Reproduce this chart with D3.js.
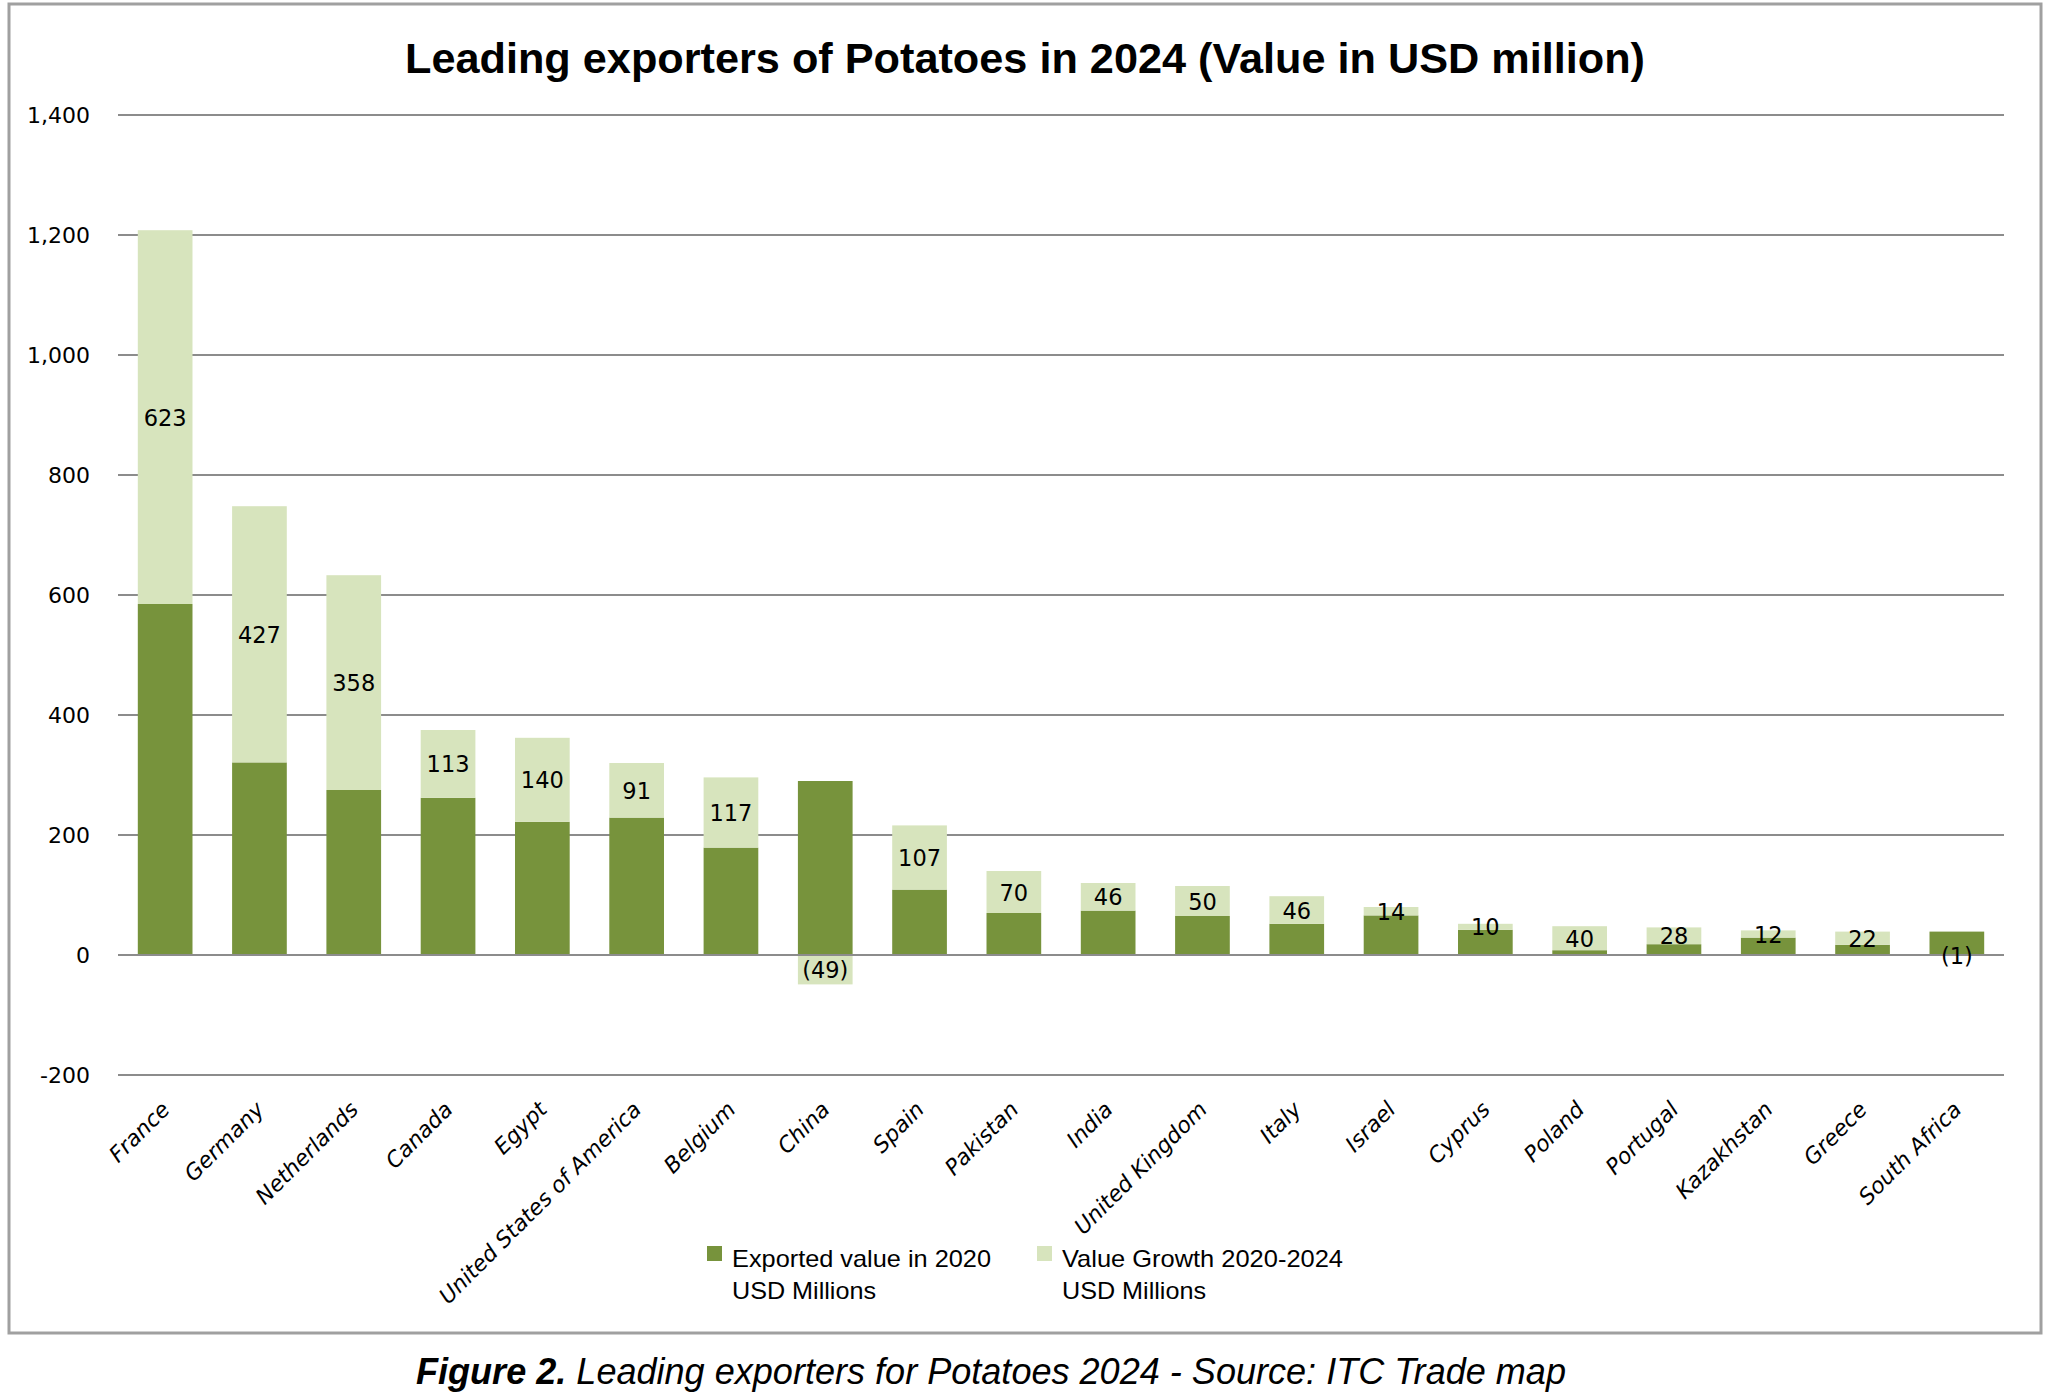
<!DOCTYPE html>
<html>
<head>
<meta charset="utf-8">
<script src="https://cdn.jsdelivr.net/npm/d3@7"></script>
<style>
html,body{margin:0;padding:0;background:#fff;}
svg{display:block;}
</style>
</head>
<body>
<svg id="chart" width="2050" height="1398"></svg>
<script>
const countries = ["France","Germany","Netherlands","Canada","Egypt","United States of America","Belgium","China","Spain","Pakistan","India","United Kingdom","Italy","Israel","Cyprus","Poland","Portugal","Kazakhstan","Greece","South Africa"];
const exported2020 = [585,321,275,262,222,229,179,290,109,70,74,65,52,66,42,8,18,29,17,39];
const growth = [623,427,358,113,140,91,117,-49,107,70,46,50,46,14,10,40,28,12,22,-1];
const yTicks = [-200,0,200,400,600,800,1000,1200,1400];
const seriesNames = [["Exported value in 2020","USD Millions"],["Value Growth 2020-2024","USD Millions"]];
const colors = ["#77933C","#D7E4BD"];

const svg = d3.select("#chart");

// outer frame
svg.append("rect").attr("x",9).attr("y",4).attr("width",2032).attr("height",1329)
  .attr("fill","#fff").attr("stroke","#a0a0a0").attr("stroke-width",3);

// title
svg.append("text").attr("x",1025).attr("y",73).attr("text-anchor","middle")
  .attr("font-family","Liberation Sans, Arial, sans-serif").attr("font-weight","bold")
  .attr("font-size",43).attr("fill","#000")
  .attr("textLength",1240).attr("lengthAdjust","spacingAndGlyphs")
  .text("Leading exporters of Potatoes in 2024 (Value in USD million)");

const x = d3.scaleBand().domain(countries).range([118,2004]).paddingInner(0.42).paddingOuter(0.21);
const y = d3.scaleLinear().domain([-200,1400]).range([1075,115]);

// gridlines
svg.append("g").selectAll("line").data(yTicks).join("line")
  .attr("x1",118).attr("x2",2004)
  .attr("y1",d=>y(d)).attr("y2",d=>y(d))
  .attr("stroke","#8c8c8c").attr("stroke-width",2);

// y axis labels
const comma = d3.format(",");
const yAxis = d3.axisLeft(y).tickValues(yTicks).tickSize(0).tickPadding(0)
  .tickFormat(d => (d<0?"-":"") + comma(Math.abs(d)));
const yg = svg.append("g").attr("transform","translate(90,0)").call(yAxis);
yg.select(".domain").remove();
yg.selectAll("text").attr("font-family","DejaVu Sans, Verdana, sans-serif")
  .attr("font-size",22).attr("fill","#000").attr("dy","0.36em");

// stacked data
const rows = countries.map((c,i)=>({country:c, a:exported2020[i], b:growth[i]}));
const stack = d3.stack().keys(["a","b"]).offset(d3.stackOffsetDiverging);
const series = stack(rows);

svg.append("g").selectAll("g").data(series).join("g")
  .attr("fill",(d,i)=>colors[i])
  .selectAll("rect").data(d=>d).join("rect")
  .attr("x",d=>x(d.data.country))
  .attr("width",x.bandwidth())
  .attr("y",d=>y(Math.max(d[0],d[1])))
  .attr("height",d=>Math.abs(y(d[0])-y(d[1])));

// zero line on top
svg.append("line").attr("x1",118).attr("x2",2004).attr("y1",y(0)).attr("y2",y(0))
  .attr("stroke","#8c8c8c").attr("stroke-width",2);

// data labels for growth series
const fmt = v => v<0 ? "("+Math.abs(v)+")" : String(v);
svg.append("g").selectAll("text").data(series[1]).join("text")
  .attr("x",d=>x(d.data.country)+x.bandwidth()/2)
  .attr("y",d=>y((d[0]+d[1])/2))
  .attr("dy","0.38em")
  .attr("text-anchor","middle")
  .attr("font-family","DejaVu Sans, Verdana, sans-serif")
  .attr("font-size",22.5).attr("fill","#000")
  .text(d=>fmt(d.data.b));

// x axis labels
svg.append("g").selectAll("text").data(countries).join("text")
  .attr("transform",d=>`translate(${x(d)+x.bandwidth()/2-5},1100) rotate(-45)`)
  .attr("text-anchor","end")
  .attr("dy","0.7em")
  .attr("font-family","DejaVu Sans, Verdana, sans-serif")
  .attr("font-style","italic")
  .attr("font-size",22).attr("fill","#000")
  .text(d=>d);

// legend
const legendX = [707,1037];
const lg = svg.append("g");
seriesNames.forEach((lines,i)=>{
  lg.append("rect").attr("x",legendX[i]).attr("y",1246).attr("width",15).attr("height",15).attr("fill",colors[i]);
  lines.forEach((t,j)=>{
    const w = j===0 ? (i===0?259:281) : 144;
    lg.append("text").attr("x",legendX[i]+25).attr("y",1267+j*32)
      .attr("font-family","Liberation Sans, Arial, sans-serif")
      .attr("font-size",24).attr("fill","#000")
      .attr("textLength",w).attr("lengthAdjust","spacingAndGlyphs")
      .text(t);
  });
});

// caption
const cap = svg.append("text").attr("x",991).attr("y",1384).attr("text-anchor","middle")
  .attr("font-family","Liberation Sans, Arial, sans-serif").attr("font-style","italic")
  .attr("font-size",36).attr("fill","#000")
  .attr("textLength",1150).attr("lengthAdjust","spacingAndGlyphs");
cap.append("tspan").attr("font-weight","bold").text("Figure 2.");
cap.append("tspan").text(" Leading exporters for Potatoes 2024 - Source: ITC Trade map");
</script>
</body>
</html>
